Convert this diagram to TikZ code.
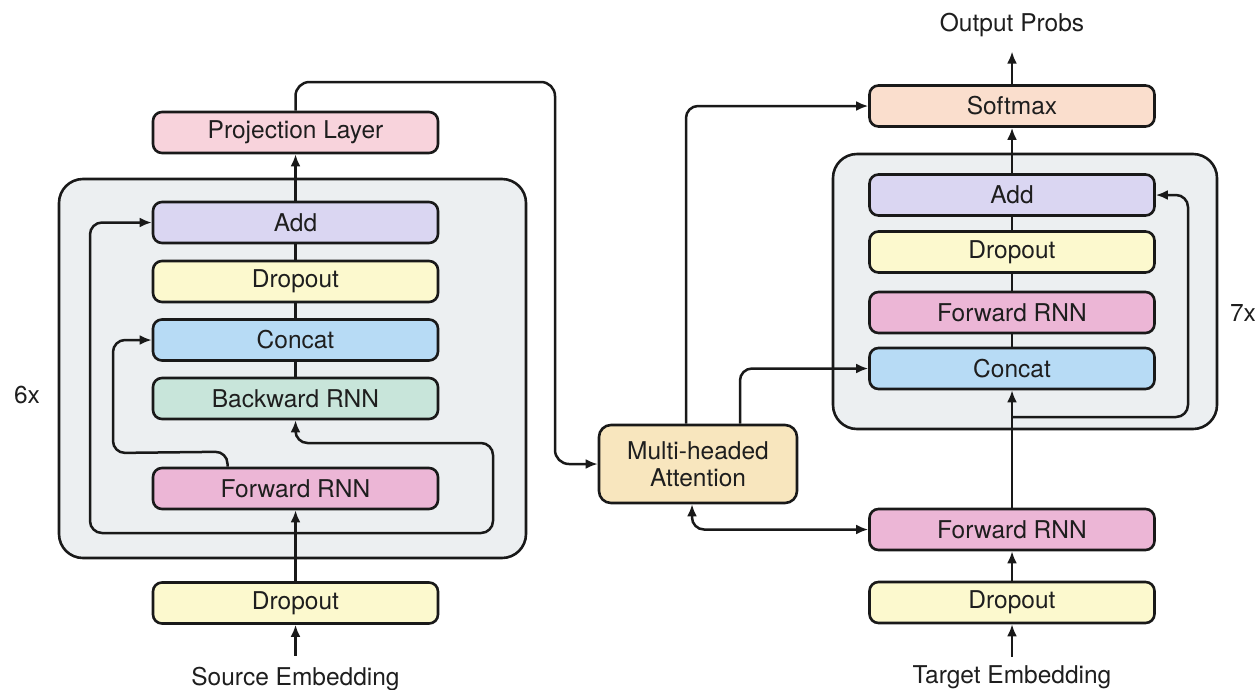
\documentclass[tikz,border=0pt]{standalone}
\usepackage{fontspec}
\setmainfont{TeX Gyre Heros}
\usetikzlibrary{arrows.meta}
\definecolor{txt}{HTML}{1E1E1E}
\definecolor{cgrey}{HTML}{ECEFF1}
\definecolor{cproj}{HTML}{F8D3DC}
\definecolor{cadd}{HTML}{DAD6F2}
\definecolor{cdrop}{HTML}{FCF9CE}
\definecolor{cconcat}{HTML}{B7DBF5}
\definecolor{cbwd}{HTML}{C8E5DA}
\definecolor{cfwd}{HTML}{ECB6D6}
\definecolor{csoft}{HTML}{FADECD}
\definecolor{catt}{HTML}{F8E6BE}
\begin{document}
\begin{tikzpicture}[x=1pt,y=-1pt,
  box/.style={draw=black!90, line width=2.6pt, rounded corners=9pt, minimum width=285pt, minimum height=41pt, inner sep=0pt, font=\fontsize{24.5}{28}\selectfont, text=txt},
  group/.style={draw=black!90, line width=2.6pt, rounded corners=24pt, fill=cgrey, inner sep=0pt},
  lbl/.style={font=\fontsize{24.5}{28}\selectfont, text=txt, inner sep=0pt},
  conn/.style={draw=black!90, line width=2.5pt, rounded corners=12pt},
  arr/.style={conn, -{Latex[length=12pt,width=10pt]}},
  arrs/.style={conn, {Latex[length=12pt,width=10pt]}-{Latex[length=12pt,width=10pt]}}
]
\useasboundingbox (0,0) rectangle (1259,689);

% group backgrounds
\node[group, minimum width=467pt, minimum height=379pt] (encgrp) at (292.5,368.5) {};
\node[group, minimum width=384pt, minimum height=275pt] (decgrp) at (1025,291.5) {};

% encoder
\node[box, fill=cproj] (proj) at (295.5,132.5) {Projection Layer};
\node[box, fill=cadd] (eadd) at (295.5,222.5) {Add};
\node[box, fill=cdrop] (edrop) at (295.5,281.5) {Dropout};
\node[box, fill=cconcat] (econcat) at (295.5,340) {Concat};
\node[box, fill=cbwd] (ebwd) at (295.5,398.5) {Backward RNN};
\node[box, fill=cfwd] (efwd) at (295.5,488.5) {Forward RNN};
\node[box, fill=cdrop] (edrop2) at (295.5,603) {Dropout};
\node[lbl, anchor=base] (src) at (295.5,685) {Source Embedding};
\node[lbl] (six) at (27,395) {6x};

% attention
\node[box, fill=catt, minimum width=198pt, minimum height=78pt, align=center, rounded corners=12pt, font=\fontsize{24.5}{27.5}\selectfont] (att) at (698,464) {Multi-headed\\Attention};

% decoder
\node[box, fill=csoft] (soft) at (1012,106) {Softmax};
\node[box, fill=cadd] (dadd) at (1012,195) {Add};
\node[box, fill=cdrop] (ddrop) at (1012,252) {Dropout};
\node[box, fill=cfwd] (dfwd) at (1012,312.5) {Forward RNN};
\node[box, fill=cconcat] (dconcat) at (1012,368.5) {Concat};
\node[box, fill=cfwd] (dfwd2) at (1012,529.5) {Forward RNN};
\node[box, fill=cdrop] (ddrop2) at (1012,602.5) {Dropout};
\node[lbl, anchor=base] (tgt) at (1012,683) {Target Embedding};
\node[lbl, anchor=base] (outp) at (1012,31) {Output Probs};
\node[lbl] (seven) at (1243,313) {7x};

% encoder connectors
\coordinate (esplit) at (295.5,533);
\draw[arr, shorten <=11pt] (src.north) -- (edrop2.south);
\draw[arr] (edrop2.north) -- (efwd.south);
\draw[arr] (esplit) -- (90,533) |- (eadd.west);
\draw[arr] (esplit) -- (493,533) -- (493,443) -| (ebwd.south);
\draw[arr] ([xshift=-68pt]efwd.north) -- ++(0,-15) -- (113,453) |- (econcat.west);
\draw[conn] (ebwd.north) -- (econcat.south);
\draw[conn] (econcat.north) -- (edrop.south);
\draw[conn] (edrop.north) -- (eadd.south);
\draw[arr] (eadd.north) -- (proj.south);
\draw[arr, rounded corners=14pt] (proj.north) |- (555,82) |- (att.west);

% attention connectors
\draw[arr] ([xshift=-12pt]att.north) |- (soft.west);
\draw[arr] ([xshift=42pt]att.north) |- (dconcat.west);
\draw[arrs] ([xshift=-6pt]att.south) |- (dfwd2.west);

% decoder connectors
\coordinate (dsplit) at (1012,417);
\draw[arr, shorten <=8pt] (tgt.north) -- (ddrop2.south);
\draw[arr] (ddrop2.north) -- (dfwd2.south);
\draw[arr] (dfwd2.north) -- (dconcat.south);
\draw[arr] (dsplit) -- (1188,417) |- (dadd.east);
\draw[conn] (dconcat.north) -- (dfwd.south);
\draw[conn] (dfwd.north) -- (ddrop.south);
\draw[conn] (ddrop.north) -- (dadd.south);
\draw[arr] (dadd.north) -- (soft.south);
\draw[arr, shorten >=15pt] (soft.north) -- (outp.south);
\end{tikzpicture}
\end{document}
